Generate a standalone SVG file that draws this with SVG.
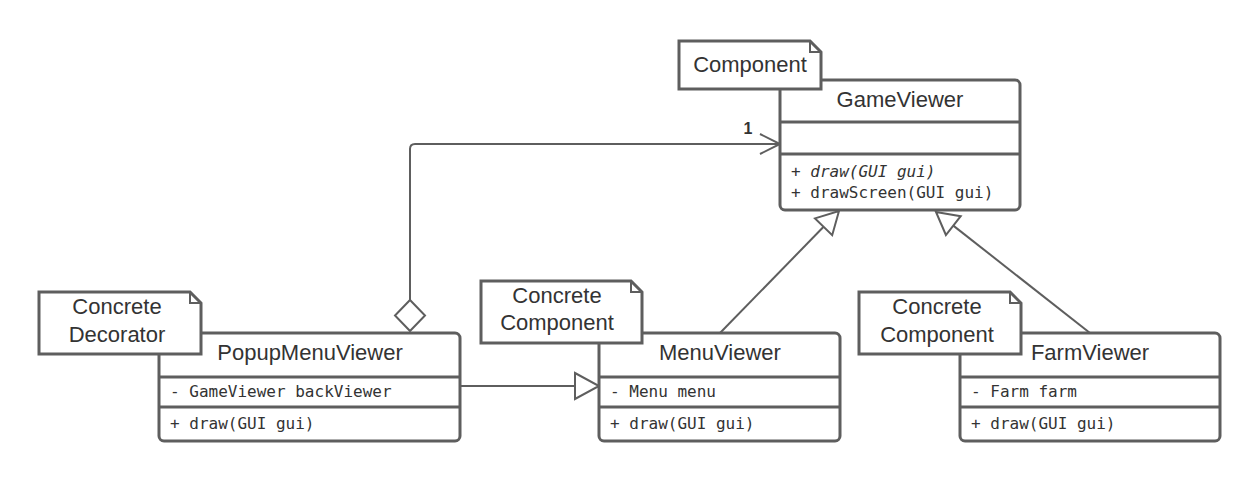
<svg xmlns="http://www.w3.org/2000/svg" width="1260" height="480" viewBox="0 0 1260 480">
<style>
.box{fill:#fff;stroke:#5e5e5e;stroke-width:3}
.div{stroke:#5e5e5e;stroke-width:3}
.note{fill:#fff;stroke:#5e5e5e;stroke-width:3;stroke-linejoin:miter}
.fold{fill:none;stroke:#5e5e5e;stroke-width:2}
.title{font-family:"Liberation Sans",Arial,sans-serif;font-size:22px;fill:#333;text-anchor:middle}
.mono{font-family:"DejaVu Sans Mono",monospace;font-size:16px;fill:#333}
.conn{fill:none;stroke:#5e5e5e;stroke-width:2}
.head{fill:#fff;stroke:#5e5e5e;stroke-width:2}
.lbl{font-family:"Liberation Sans",Arial,sans-serif;font-size:16px;font-weight:bold;fill:#333;text-anchor:middle}
</style>
<rect width="1260" height="480" fill="#fff"/>
<g id="connectors">
  <path class="conn" d="M410,300 V149 Q410,144 415,144 H779"/>
  <path class="conn" d="M760,134 L780,144 L760,154"/>
  <path class="head" d="M410,300 L425,315.5 L410,331 L395,315.5 Z"/>
  <text class="lbl" x="748" y="134">1</text>
  <path class="conn" d="M460,386 H575"/>
  <path class="head" d="M575,373 L599,386 L575,399 Z"/>
  <path class="conn" d="M720,333 L823.6,226.8"/>
  <path class="head" d="M839,211 L832.2,235.2 L815,218.4 Z"/>
  <path class="conn" d="M1090,333 L953.3,225.6"/>
  <path class="head" d="M936,212 L960.7,216.2 L945.9,235 Z"/>
</g>
<g id="GameViewer">
  <rect class="box" x="780" y="80" width="240" height="130" rx="5"/>
  <line class="div" x1="780" y1="122" x2="1020" y2="122"/>
  <line class="div" x1="780" y1="154" x2="1020" y2="154"/>
  <text class="title" x="900" y="107">GameViewer</text>
  <text class="mono" x="791" y="177">+ <tspan font-style="italic">draw(GUI gui)</tspan></text>
  <text class="mono" x="791" y="198">+ drawScreen(GUI gui)</text>
</g>
<g id="PopupMenuViewer">
  <rect class="box" x="159" y="333" width="301" height="108" rx="5"/>
  <line class="div" x1="159" y1="377" x2="460" y2="377"/>
  <line class="div" x1="159" y1="407" x2="460" y2="407"/>
  <text class="title" x="310" y="360">PopupMenuViewer</text>
  <text class="mono" x="170" y="397">- GameViewer backViewer</text>
  <text class="mono" x="170" y="429">+ draw(GUI gui)</text>
</g>
<g id="MenuViewer">
  <rect class="box" x="599" y="333" width="241" height="108" rx="5"/>
  <line class="div" x1="599" y1="377" x2="840" y2="377"/>
  <line class="div" x1="599" y1="407" x2="840" y2="407"/>
  <text class="title" x="720" y="360">MenuViewer</text>
  <text class="mono" x="610" y="397">- Menu menu</text>
  <text class="mono" x="610" y="429">+ draw(GUI gui)</text>
</g>
<g id="FarmViewer">
  <rect class="box" x="960" y="333" width="260" height="108" rx="5"/>
  <line class="div" x1="960" y1="377" x2="1220" y2="377"/>
  <line class="div" x1="960" y1="407" x2="1220" y2="407"/>
  <text class="title" x="1090" y="360">FarmViewer</text>
  <text class="mono" x="971" y="397">- Farm farm</text>
  <text class="mono" x="971" y="429">+ draw(GUI gui)</text>
</g>
<g id="note-component">
  <path class="note" d="M679,41 H810 L821,52 V89 H679 Z"/>
  <path class="fold" d="M810,41 V52 H821"/>
  <text class="title" x="750" y="72">Component</text>
</g>
<g id="note-decorator">
  <path class="note" d="M39,292 H190 L201,303 V354 H39 Z"/>
  <path class="fold" d="M190,292 V303 H201"/>
  <text class="title" x="117" y="314">Concrete</text>
  <text class="title" x="117" y="342">Decorator</text>
</g>
<g id="note-menu">
  <path class="note" d="M481,281 H631 L642,292 V343 H481 Z"/>
  <path class="fold" d="M631,281 V292 H642"/>
  <text class="title" x="557" y="303">Concrete</text>
  <text class="title" x="557" y="330">Component</text>
</g>
<g id="note-farm">
  <path class="note" d="M859,292 H1010 L1021,303 V354 H859 Z"/>
  <path class="fold" d="M1010,292 V303 H1021"/>
  <text class="title" x="937" y="314">Concrete</text>
  <text class="title" x="937" y="342">Component</text>
</g>
</svg>
